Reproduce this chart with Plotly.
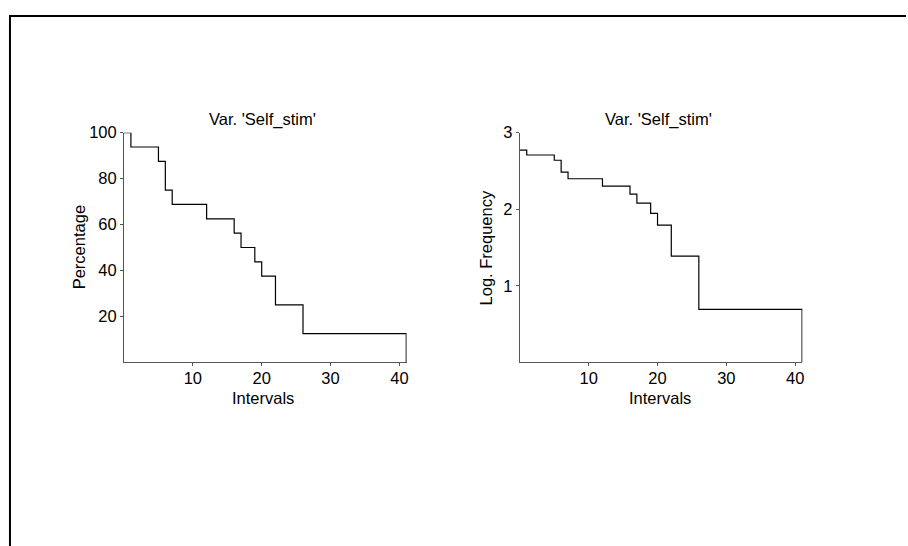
import plotly.graph_objects as go

# Data (step change points and levels)
intervals = [0, 1, 5, 6, 7, 12, 16, 17, 19, 20, 22, 26, 41]
percentage = [100, 93.75, 87.5, 75, 68.75, 62.5, 56.25, 50, 43.75, 37.5, 25, 12.5, 0]
log_frequency = [2.7726, 2.7081, 2.6391, 2.4849, 2.3979, 2.3026, 2.1972,
                 2.0794, 1.9459, 1.7918, 1.3863, 0.6931, 0]

x_ticks = [10, 20, 30, 40]
pct_ticks = [20, 40, 60, 80, 100]
log_ticks = [1, 2, 3]

title_text = "Var. 'Self_stim'"
x_title = "Intervals"
y_title_left = "Percentage"
y_title_right = "Log. Frequency"

FONT = "Liberation Sans, Arial, Helvetica, sans-serif"
FS = 16.5
AXIS_COLOR = "#555555"

W, H = 908, 546

def px_x(p):
    return p / W

def px_y(p):
    return 1 - p / H

fig = go.Figure()
fig.add_trace(go.Scatter(x=intervals, y=percentage, mode="lines",
                         line=dict(shape="hv", color="black", width=1.2),
                         xaxis="x", yaxis="y", showlegend=False, cliponaxis=False,
                         hoverinfo="skip"))
fig.add_trace(go.Scatter(x=intervals, y=log_frequency, mode="lines",
                         line=dict(shape="hv", color="black", width=1.2),
                         xaxis="x2", yaxis="y2", showlegend=False, cliponaxis=False,
                         hoverinfo="skip"))

common_x = dict(range=[0, 41.05], tickvals=x_ticks, showline=True, linecolor=AXIS_COLOR,
                linewidth=1, ticks="outside", ticklen=3, tickcolor=AXIS_COLOR,
                showgrid=False, zeroline=False, ticklabelstandoff=-2,
                tickfont=dict(family=FONT, size=FS, color="black"))
common_y = dict(showline=True, linecolor=AXIS_COLOR, linewidth=1, ticks="outside",
                ticklen=3, tickcolor=AXIS_COLOR, showgrid=False, zeroline=False,
                tickfont=dict(family=FONT, size=FS, color="black"))

plot_top = 125.7
plot_bottom = 359.3

def text_ann(text, x, y, angle=0):
    return dict(text=text, x=px_x(x), y=px_y(y), xref="paper", yref="paper",
                showarrow=False, xanchor="center", yanchor="middle", textangle=angle,
                font=dict(family=FONT, size=FS, color="black"))

fig.update_layout(
    width=W, height=H,
    margin=dict(l=0, r=0, t=0, b=0),
    paper_bgcolor="white", plot_bgcolor="white",
    xaxis=dict(domain=[px_x(124.3), px_x(407.5)], anchor="y", **common_x),
    yaxis=dict(domain=[px_y(plot_bottom), px_y(plot_top)], anchor="x",
               range=[0, 100], tickvals=pct_ticks, **common_y),
    xaxis2=dict(domain=[px_x(521.0), px_x(804.2)], anchor="y2", **common_x),
    yaxis2=dict(domain=[px_y(plot_bottom), px_y(plot_top)], anchor="x2",
                range=[0, 3], tickvals=log_ticks, **common_y),
    annotations=[
        text_ann(title_text, 263, 112),
        text_ann(title_text, 660, 112),
        text_ann(x_title, 264, 396),
        text_ann(x_title, 661, 396),
        text_ann(y_title_left, 79, 242.5, -90),
        text_ann(y_title_right, 487, 242.5, -90),
    ],
    shapes=[
        dict(type="path", xref="paper", yref="paper",
             path=f"M {px_x(10)} 0 L {px_x(10)} {px_y(7)} L 1 {px_y(7)}",
             line=dict(color="black", width=2)),
    ],
)

post = (
    "document.documentElement.style.margin='0';"
    "document.documentElement.style.padding='0';"
    "document.body.style.margin='0';document.body.style.padding='0';"
    "document.body.style.overflow='hidden';"
    "var gd=document.getElementById('{plot_id}');"
    "gd.style.position='fixed';gd.style.top='0px';gd.style.left='0px';"
)

fig.write_html(
    "out.html",
    config={"displayModeBar": False, "staticPlot": True},
    post_script=post,
)
